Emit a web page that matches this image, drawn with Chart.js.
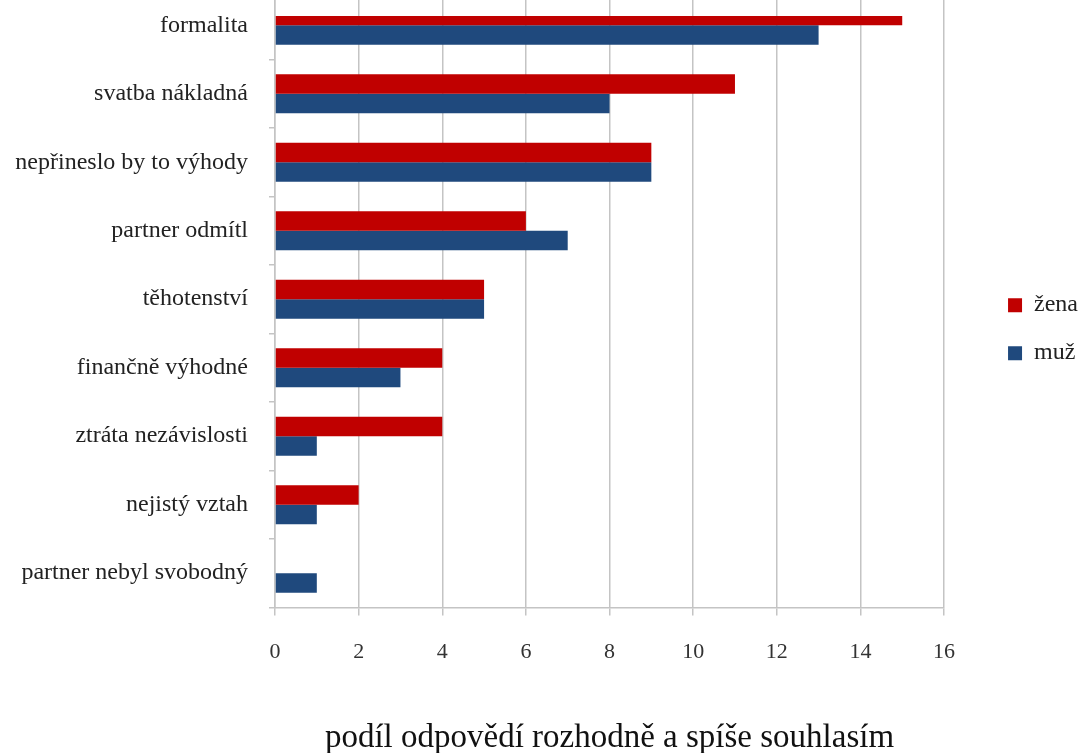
<!DOCTYPE html>
<html>
<head>
<meta charset="utf-8">
<script src="https://cdn.jsdelivr.net/npm/chart.js@4/dist/chart.umd.min.js"></script>
<style>
  html, body { margin: 0; padding: 0; background: #fff; overflow: hidden; }
  #wrap { position: relative; width: 1091px; height: 753px; overflow: hidden; }
  #chart { position: absolute; left: 0; top: -25px; }
</style>
</head>
<body>
<div id="wrap">
  <canvas id="chart" width="1091" height="783"></canvas>
</div>
<script>
// Data
let categories = [
    "formalita",
    "svatba nákladná",
    "nepřineslo by to výhody",
    "partner odmítl",
    "těhotenství",
    "finančně výhodné",
    "ztráta nezávislosti",
    "nejistý vztah",
    "partner nebyl svobodný"
];
let zenaValues = [15, 11, 9, 6, 5, 4, 4, 2, 0];
let muzValues = [13, 8, 9, 7, 5, 3, 1, 1, 1];
let seriesNames = ["žena", "muž"];
let xTicks = [0, 2, 4, 6, 8, 10, 12, 14, 16];
let chartTitle = "podíl odpovědí rozhodně a spíše souhlasím";

let serif = "'Liberation Serif', 'Times New Roman', serif";
let gridColor = "#c4c4c4";

// Build chart
let chartCanvas = document.getElementById("chart");
let chart = new Chart(chartCanvas, {
    type: "bar",
    data: {
        labels: categories,
        datasets: [
            {
                label: seriesNames[0],
                data: zenaValues,
                backgroundColor: "#c00000",
                barPercentage: 1,
                categoryPercentage: 0.57,
                clip: { left: 5, top: -25, right: 5, bottom: 5 }
            },
            {
                label: seriesNames[1],
                data: muzValues,
                backgroundColor: "#1f497d",
                barPercentage: 1,
                categoryPercentage: 0.57,
                clip: { left: 5, top: -25, right: 5, bottom: 5 }
            }
        ]
    },
    options: {
        indexAxis: "y",
        responsive: false,
        animation: false,
        devicePixelRatio: 1,
        layout: { padding: { top: 16, left: 0, right: 3, bottom: 0 } },
        scales: {
            x: {
                min: xTicks[0],
                max: xTicks[xTicks.length - 1],
                afterBuildTicks: (scale) => {
                    scale.ticks = xTicks.map(v => ({ value: v }));
                },
                afterFit: (scale) => { scale.height = 60; },
                grid: { color: gridColor, lineWidth: 1.5, tickLength: 8 },
                border: { color: gridColor, width: 1.5 },
                ticks: {
                    color: "#333",
                    padding: 24,
                    font: { family: serif, size: 22 }
                }
            },
            y: {
                afterFit: (scale) => {
                    scale.width = 275;
                    scale.paddingTop = 0;
                    scale.paddingBottom = 0;
                },
                grid: { drawOnChartArea: false, color: gridColor, lineWidth: 1.5, tickLength: 6 },
                border: { color: gridColor, width: 1.5 },
                ticks: {
                    color: "#222",
                    padding: 21,
                    font: { family: serif, size: 24 }
                }
            },
            // empty space between plot and legend
            spacer: {
                type: "linear",
                position: "right",
                display: true,
                afterFit: (scale) => {
                    scale.width = 40;
                    scale.paddingTop = 0;
                    scale.paddingBottom = 0;
                },
                grid: { display: false },
                border: { display: false },
                ticks: { display: false }
            }
        },
        plugins: {
            legend: {
                position: "right",
                fullSize: false,
                title: {
                    display: true,
                    text: "",
                    font: { size: 10 },
                    padding: { top: 48, bottom: 0 }
                },
                labels: {
                    boxWidth: 14,
                    boxHeight: 14,
                    padding: 24,
                    color: "#222",
                    font: { family: serif, size: 24 }
                }
            },
            title: {
                display: true,
                text: chartTitle,
                position: "bottom",
                fullSize: false,
                color: "#111",
                padding: { top: 51, bottom: 0 },
                font: { family: serif, size: 33, weight: "normal" }
            },
            tooltip: { enabled: false }
        }
    }
});
</script>
</body>
</html>
